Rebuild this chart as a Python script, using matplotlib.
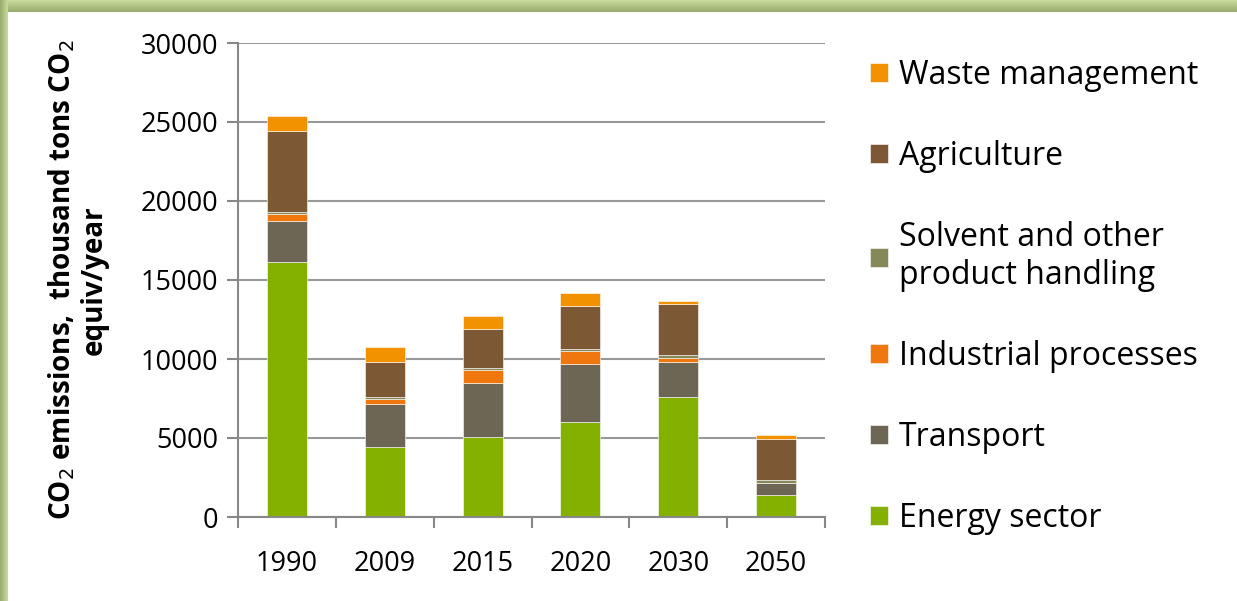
import matplotlib.pyplot as plt
from matplotlib.colors import LinearSegmentedColormap
import numpy as np

plt.rcParams['font.family'] = ['Open Sans', 'DejaVu Sans']

years = ['1990', '2009', '2015', '2020', '2030', '2050']

# stacked from bottom to top
sectors = ['Energy sector', 'Transport', 'Industrial processes',
           'Solvent and other\nproduct handling', 'Agriculture', 'Waste management']
energy = [16140, 4430, 5060, 6010, 7590, 1370]
transport = [2620, 2740, 3440, 3690, 2250, 780]
industrial = [420, 300, 800, 810, 230, 30]
solvent = [130, 130, 130, 140, 160, 140]
agriculture = [5140, 2210, 2490, 2720, 3270, 2620]
waste = [930, 930, 800, 810, 150, 270]

series = [energy, transport, industrial, solvent, agriculture, waste]
colors = ['#84b000', '#6e6654', '#f0760e', '#868858', '#7d5834', '#f39200']

W, H = 1237, 601
fig = plt.figure(figsize=(W / 100, H / 100), dpi=100, facecolor='white')

# green frame on top and left
bg = fig.add_axes([0, 0, 1, 1], zorder=-10)
cmap = LinearSegmentedColormap.from_list('frame', ['#c9dc9e', '#98ac6e'])
bg.imshow(np.linspace(0, 1, 64).reshape(-1, 1), aspect='auto', cmap=cmap,
          extent=[0, W, 12, 0])
bg.imshow(np.linspace(0, 1, 64).reshape(1, -1)[:, ::-1], aspect='auto',
          cmap=cmap, extent=[0, 8, H, 0])
bg.set_xlim(0, W)
bg.set_ylim(H, 0)
bg.axis('off')

ax = fig.add_axes([238 / W, 84 / H, 587 / W, 474 / H])
x = np.arange(len(years))
bottom = np.zeros(len(years))
handles = []
for vals, name, c in zip(series, sectors, colors):
    b = ax.bar(x, vals, width=0.41, bottom=bottom, color=c,
               edgecolor='white', linewidth=0.4, zorder=3, label=name)
    bottom += np.array(vals)
    handles.append(b)

ax.set_ylim(0, 30000)
ax.set_xlim(-0.5, len(years) - 0.5)
ax.set_yticks(range(0, 30001, 5000))
ax.set_xticks(x)
ax.set_xticklabels(years)
ax.set_xticks(np.arange(-0.5, len(years)), minor=True)
ax.tick_params(axis='x', which='major', length=0, pad=24, labelsize=19.5)
ax.tick_params(axis='x', which='minor', length=8, width=1.5, color='#888888')
ax.tick_params(axis='y', length=8, width=1.5, color='#888888', pad=6, labelsize=19.5)
ax.grid(axis='y', color='#999999', linewidth=1.5, zorder=0)
for s in ['top', 'right']:
    ax.spines[s].set_visible(False)
for s in ['left', 'bottom']:
    ax.spines[s].set_color('#888888')
    ax.spines[s].set_linewidth(1.5)
ax.spines['bottom'].set_zorder(4)

ax.set_ylabel('CO$_2$ emissions,  thousand tons CO$_2$\nequiv/year',
              fontsize=20, fontweight='bold', linespacing=1.1)
ax.yaxis.set_label_coords(-0.22, 0.5)

leg = ax.legend(handles[::-1], sectors[::-1], loc='upper left',
                bbox_to_anchor=(1.055, 0.993), frameon=False, fontsize=23,
                handlelength=0.55, handleheight=0.55, handletextpad=0.35,
                labelspacing=1.5, borderaxespad=0)

fig.savefig('out.png', dpi=100)
